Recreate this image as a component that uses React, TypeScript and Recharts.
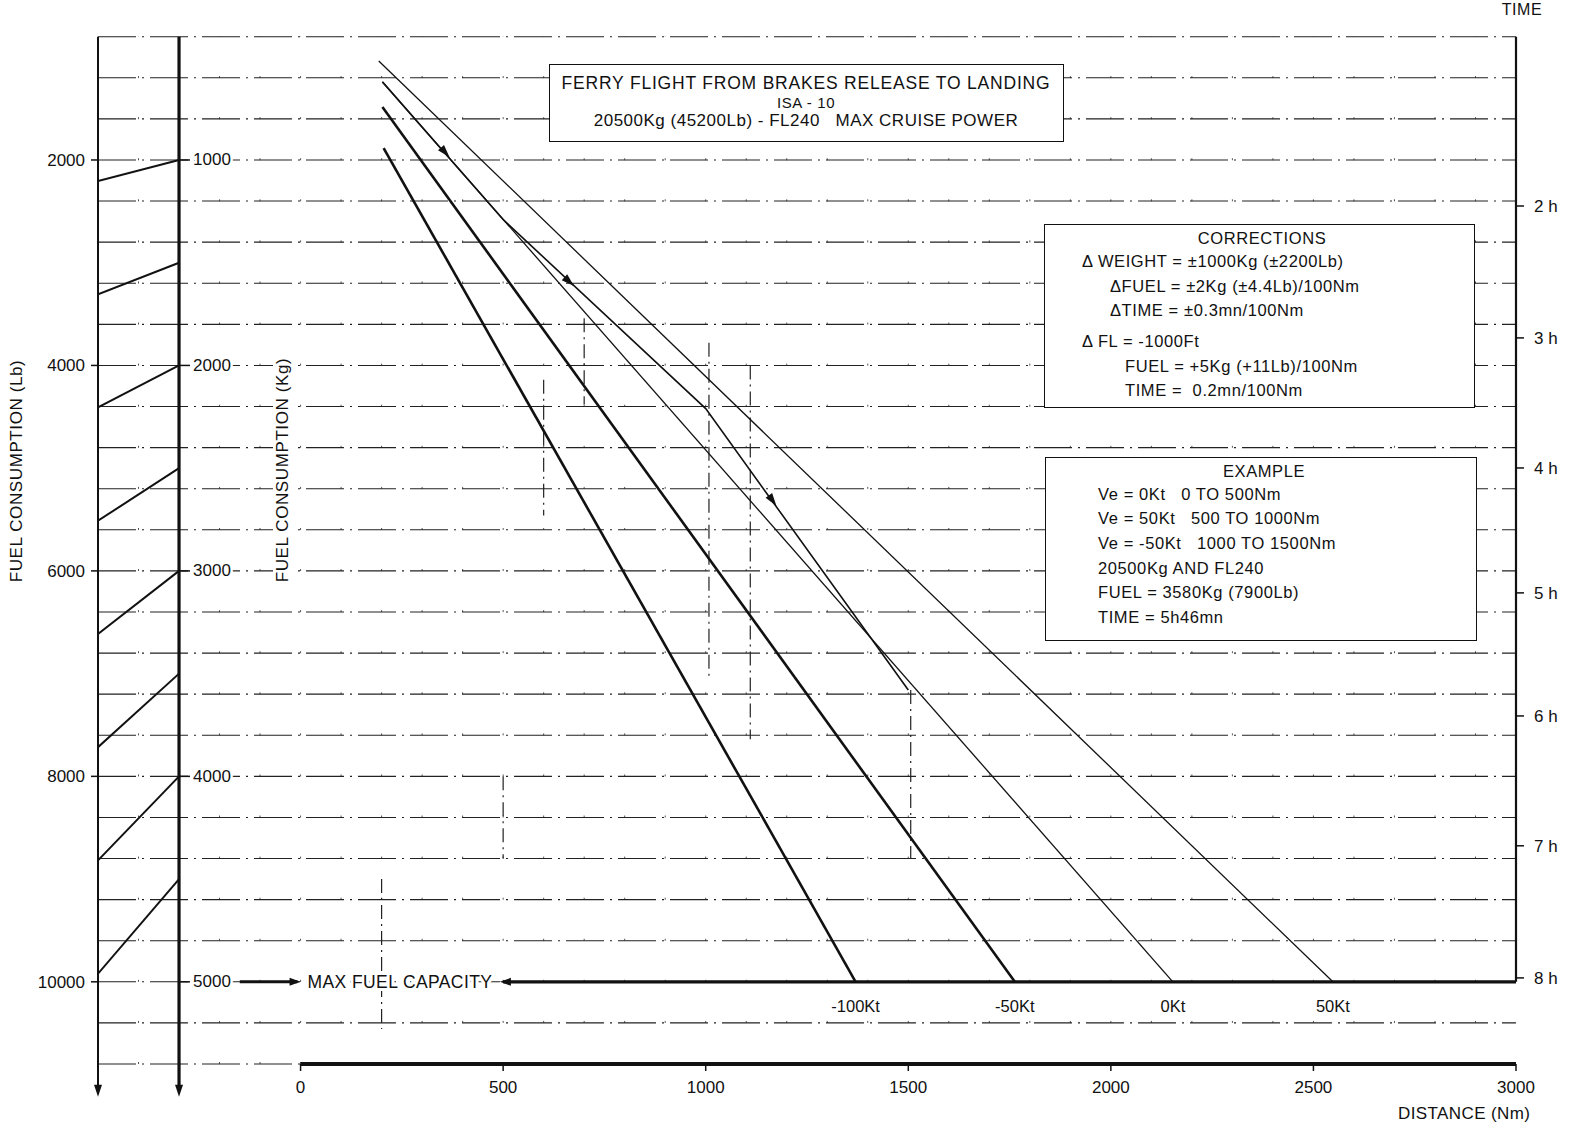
import React from 'react'
import { ComposedChart, Line, XAxis, YAxis, ReferenceLine, ReferenceDot } from 'recharts'

const W = 1570
const H = 1129
const FONT = '"Liberation Sans", Arial, Helvetica, sans-serif'
const INK = '#111'

// Wind curves: start of each curve and the point where it meets max fuel (Nm / kg)
const WIND_LABELS = ['50Kt', '0Kt', '-50Kt', '-100Kt']
const WIND_START_NM = [193, 202, 202, 205]
const WIND_START_KG = [518, 620, 742, 942]
const WIND_END_NM = [2548, 2153, 1763, 1370]
const WIND_END_KG = [5000, 5000, 5000, 5000]
const WIND_STROKE = [1.3, 1.3, 2.6, 2.6]

// Worked example: 0Kt to 500Nm, 50Kt to 1000Nm, -50Kt to 1500Nm
const EXAMPLE_NM = [202, 500, 1000, 1500]
const EXAMPLE_KG = [620, 1290, 2210, 3580]
const ARROW_NM = [358, 664, 1166]
const ARROW_KG = [965, 1594, 2660]

// Axes
const DIST_TICKS = [0, 500, 1000, 1500, 2000, 2500, 3000]
const KG_TICKS = [1000, 2000, 3000, 4000, 5000]
const LB_TICKS = [2000, 4000, 6000, 8000, 10000]
const CONV_KG = [1000, 1500, 2000, 2500, 3000, 3500, 4000, 4500]
const CONV_LB = [2205, 3307, 4409, 5512, 6614, 7716, 8818, 9921]
const TIME_LABELS = ['2 h', '3 h', '4 h', '5 h', '6 h', '7 h', '8 h']
const TIME_AT_KG = [1224, 1866, 2499, 3107, 3706, 4338, 4981]

// Grid
const GRID_KG = [400, 600, 800, 1000, 1200, 1400, 1600, 1800, 2000, 2200, 2400, 2600, 2800, 3000,
  3200, 3400, 3600, 3800, 4000, 4200, 4400, 4600, 4800, 5000, 5200, 5400]
const GRID_NM = [-400, -200, -100, 0, 100, 200, 300, 400, 500, 600, 700, 800, 900, 1000, 1100, 1200,
  1300, 1400, 1500, 1600, 1700, 1800, 1900, 2000, 2100, 2200, 2300, 2400, 2500, 2600, 2700, 2800, 2900]
// leftover dash-dot construction verticals (as they sit on the scan)
const CONSTRUCTION_NM = [600, 700, 1008, 1110, 1506, 200, 500]
const CONSTRUCTION_FROM_KG = [2070, 1770, 1890, 2000, 3580, 4500, 4000]
const CONSTRUCTION_TO_KG = [2730, 2190, 3520, 3820, 4400, 5230, 4400]

const PX_PER_NM = (1516 - 98) / 3500
const PX_PER_KG = (1064 - 36.7) / 5000

const windSeries = WIND_LABELS.map((name, i) => ({
  name,
  width: WIND_STROKE[i],
  data: [
    { dist: WIND_START_NM[i], fuel: WIND_START_KG[i] },
    { dist: WIND_END_NM[i], fuel: WIND_END_KG[i] },
  ],
}))
const exampleData = EXAMPLE_NM.map((d, i) => ({ dist: d, fuel: EXAMPLE_KG[i] }))
const convSeries = CONV_KG.map((kg, i) => [
  { dist: -500, fuel: CONV_LB[i] / 2 },
  { dist: -300, fuel: kg },
])

function arrowAngle(nm: number) {
  let i = 0
  while (i < EXAMPLE_NM.length - 2 && nm > EXAMPLE_NM[i + 1]) i++
  const slope = (EXAMPLE_KG[i + 1] - EXAMPLE_KG[i]) / (EXAMPLE_NM[i + 1] - EXAMPLE_NM[i])
  return (Math.atan2(slope * PX_PER_KG, PX_PER_NM) * 180) / Math.PI
}

const tickFont = { fill: INK, fontSize: 17, fontFamily: FONT }

function Txt({ x, y, size = 17, center = false, spacing = 0.6, children }: any) {
  return (
    <div style={{
      position: 'absolute', left: x, top: y - size * 0.5, fontSize: size, lineHeight: `${size}px`,
      whiteSpace: 'pre', letterSpacing: spacing, transform: center ? 'translateX(-50%)' : undefined,
    }}>{children}</div>
  )
}

function Box({ left, top, width, height }: any) {
  return <div style={{ position: 'absolute', left, top, width, height, border: `1.6px solid ${INK}`, background: '#fff', boxSizing: 'border-box' }} />
}

export default function App() {
  return (
    <div style={{ position: 'absolute', left: 0, top: 0, width: W, height: H, background: '#fff', fontFamily: FONT, color: INK }}>
      <ComposedChart width={W} height={H} margin={{ top: 36.7, right: 0, bottom: 25, left: 0 }}>
        <XAxis type="number" dataKey="dist" domain={[-500, 3000]} allowDataOverflow ticks={DIST_TICKS} interval={0}
          axisLine={false} tickLine={{ stroke: INK, strokeWidth: 1.5 }} tickSize={7} tickMargin={10} height={40} tick={tickFont} />
        <YAxis yAxisId="lb" orientation="left" width={98} type="number" domain={[800, 10800]} reversed allowDataOverflow
          ticks={LB_TICKS} interval={0} axisLine={false} tickLine={{ stroke: INK, strokeWidth: 1.5 }} tickSize={7} tickMargin={6} tick={tickFont} />
        <YAxis yAxisId={0} hide width={0} type="number" domain={[400, 5400]} reversed allowDataOverflow />
        <YAxis yAxisId="time" orientation="right" width={54} type="number" domain={[400, 5400]} reversed allowDataOverflow
          ticks={TIME_AT_KG} interval={0} axisLine={false} tickLine={{ stroke: INK, strokeWidth: 1.5 }} tickSize={8} tickMargin={10}
          tick={tickFont} tickFormatter={(v: number) => TIME_LABELS[TIME_AT_KG.indexOf(v)] ?? ''} />

        {GRID_NM.map(v => (
          <ReferenceLine key={'gx' + v} x={v} stroke="#555" strokeWidth={1} strokeDasharray="2 39.08" ifOverflow="visible" />
        ))}
        {GRID_KG.map(v => (
          <ReferenceLine key={'gy' + v} y={v} stroke="#222" strokeWidth={1.1} strokeDasharray="38 6 2 6" ifOverflow="visible" />
        ))}
        {CONSTRUCTION_NM.map((d, i) => (
          <ReferenceLine key={'c' + i} segment={[{ x: d, y: CONSTRUCTION_FROM_KG[i] }, { x: d, y: CONSTRUCTION_TO_KG[i] }]}
            stroke="#222" strokeWidth={1.2} strokeDasharray="14 5 2 5" ifOverflow="visible" />
        ))}

        {/* fuel axes (Lb, Kg) and time axis */}
        <ReferenceLine segment={[{ x: -500, y: 400 }, { x: -500, y: 5520 }]} stroke={INK} strokeWidth={2} ifOverflow="visible" />
        <ReferenceLine segment={[{ x: -300, y: 400 }, { x: -300, y: 5520 }]} stroke={INK} strokeWidth={3.2} ifOverflow="visible" />
        <ReferenceLine segment={[{ x: 3000, y: 400 }, { x: 3000, y: 5000 }]} stroke={INK} strokeWidth={2.2} ifOverflow="visible" />
        <ReferenceLine segment={[{ x: 0, y: 5400 }, { x: 3000, y: 5400 }]} stroke={INK} strokeWidth={4} ifOverflow="visible" />
        {[-500, -300].map(d => (
          <ReferenceDot key={'ar' + d} x={d} y={5560} ifOverflow="visible"
            shape={(p: any) => <polygon points={`${p.cx - 4},${p.cy - 12} ${p.cx + 4},${p.cy - 12} ${p.cx},${p.cy}`} fill={INK} />} />
        ))}
        {KG_TICKS.map(kg => (
          <ReferenceDot key={'kg' + kg} x={-300} y={kg} ifOverflow="visible"
            shape={(p: any) => (
              <g>
                <line x1={p.cx} x2={p.cx + 11} y1={p.cy} y2={p.cy} stroke={INK} strokeWidth={1.5} />
                <text x={p.cx + 14} y={p.cy} dominantBaseline="central" fontSize={17} fontFamily={FONT} fill={INK}
                  stroke="#fff" strokeWidth={5} paintOrder="stroke">{kg}</text>
              </g>
            )} />
        ))}
        {convSeries.map((data, i) => (
          <Line key={'cv' + i} data={data} dataKey="fuel" type="linear" stroke={INK} strokeWidth={2}
            dot={false} activeDot={false} isAnimationActive={false} />
        ))}

        {/* max fuel capacity */}
        <ReferenceLine segment={[{ x: -150, y: 5000 }, { x: -8, y: 5000 }]} stroke={INK} strokeWidth={3} ifOverflow="visible" />
        <ReferenceLine segment={[{ x: 500, y: 5000 }, { x: 3000, y: 5000 }]} stroke={INK} strokeWidth={3.2} ifOverflow="visible" />
        <ReferenceDot x={0} y={5000} ifOverflow="visible"
          shape={(p: any) => (
            <g>
              <polygon points={`${p.cx},${p.cy} ${p.cx - 11},${p.cy - 4} ${p.cx - 11},${p.cy + 4}`} fill={INK} />
              <text x={p.cx + 7} y={p.cy} dominantBaseline="central" fontSize={17.5} fontFamily={FONT} fill={INK}
                stroke="#fff" strokeWidth={6} paintOrder="stroke" letterSpacing={0.4}>MAX FUEL CAPACITY</text>
            </g>
          )} />
        <ReferenceDot x={492} y={5000} ifOverflow="visible"
          shape={(p: any) => <polygon points={`${p.cx},${p.cy} ${p.cx + 11},${p.cy - 4} ${p.cx + 11},${p.cy + 4}`} fill={INK} />} />

        {/* wind curves */}
        {windSeries.map(s => (
          <Line key={s.name} data={s.data} dataKey="fuel" name={s.name} type="linear" stroke={INK} strokeWidth={s.width}
            dot={false} activeDot={false} isAnimationActive={false} />
        ))}
        {windSeries.map((s, i) => (
          <ReferenceDot key={'wl' + s.name} x={WIND_END_NM[i]} y={WIND_END_KG[i]} ifOverflow="visible"
            shape={(p: any) => (
              <text x={p.cx} y={p.cy + 24} textAnchor="middle" dominantBaseline="central" fontSize={16.5}
                fontFamily={FONT} fill={INK}>{s.name}</text>
            )} />
        ))}

        {/* example path */}
        <Line data={exampleData} dataKey="fuel" type="linear" stroke={INK} strokeWidth={1.6}
          dot={false} activeDot={false} isAnimationActive={false} />
        {ARROW_NM.map((d, i) => (
          <ReferenceDot key={'ea' + i} x={d} y={ARROW_KG[i]} ifOverflow="visible"
            shape={(p: any) => (
              <polygon points="6,0 -7,-4 -7,4" fill={INK}
                transform={`translate(${p.cx},${p.cy}) rotate(${arrowAngle(d)})`} />
            )} />
        ))}
      </ComposedChart>

      {/* axis titles */}
      <div style={{ position: 'absolute', left: 17, top: 471, fontSize: 17, whiteSpace: 'pre', letterSpacing: 0.6, transform: 'translate(-50%, -50%) rotate(-90deg)' }}>
        FUEL CONSUMPTION (Lb)
      </div>
      <div style={{ position: 'absolute', left: 283, top: 470, fontSize: 17, whiteSpace: 'pre', letterSpacing: 0.6, background: '#fff', padding: '0 4px', transform: 'translate(-50%, -50%) rotate(-90deg)' }}>
        FUEL CONSUMPTION (Kg)
      </div>
      <Txt x={1522} y={10} size={16} center>TIME</Txt>
      <Txt x={1398} y={1113} size={17} spacing={0.4}>DISTANCE (Nm)</Txt>

      {/* title */}
      <Box left={549} top={64} width={515} height={78} />
      <Txt x={806} y={84} size={17.5} center spacing={0.8}>FERRY FLIGHT FROM BRAKES RELEASE TO LANDING</Txt>
      <Txt x={806} y={102} size={15} center>ISA - 10</Txt>
      <Txt x={806} y={120} size={17} center spacing={0.5}>20500Kg (45200Lb) - FL240   MAX CRUISE POWER</Txt>

      {/* corrections */}
      <Box left={1044} top={224} width={431} height={184} />
      <Txt x={1262} y={238} size={16.5} center>CORRECTIONS</Txt>
      <Txt x={1082} y={261} size={16.5}>Δ WEIGHT = ±1000Kg (±2200Lb)</Txt>
      <Txt x={1110} y={286} size={16.5}>ΔFUEL = ±2Kg (±4.4Lb)/100Nm</Txt>
      <Txt x={1110} y={310} size={16.5}>ΔTIME = ±0.3mn/100Nm</Txt>
      <Txt x={1082} y={341} size={16.5}>Δ FL = -1000Ft</Txt>
      <Txt x={1125} y={366} size={16.5}>FUEL = +5Kg (+11Lb)/100Nm</Txt>
      <Txt x={1125} y={390} size={16.5}>TIME =  0.2mn/100Nm</Txt>

      {/* example */}
      <Box left={1045} top={457} width={432} height={184} />
      <Txt x={1264} y={471} size={16.5} center>EXAMPLE</Txt>
      <Txt x={1098} y={494} size={16.5}>Ve = 0Kt   0 TO 500Nm</Txt>
      <Txt x={1098} y={518} size={16.5}>Ve = 50Kt   500 TO 1000Nm</Txt>
      <Txt x={1098} y={543} size={16.5}>Ve = -50Kt   1000 TO 1500Nm</Txt>
      <Txt x={1098} y={568} size={16.5}>20500Kg AND FL240</Txt>
      <Txt x={1098} y={592} size={16.5}>FUEL = 3580Kg (7900Lb)</Txt>
      <Txt x={1098} y={617} size={16.5}>TIME = 5h46mn</Txt>
    </div>
  )
}
